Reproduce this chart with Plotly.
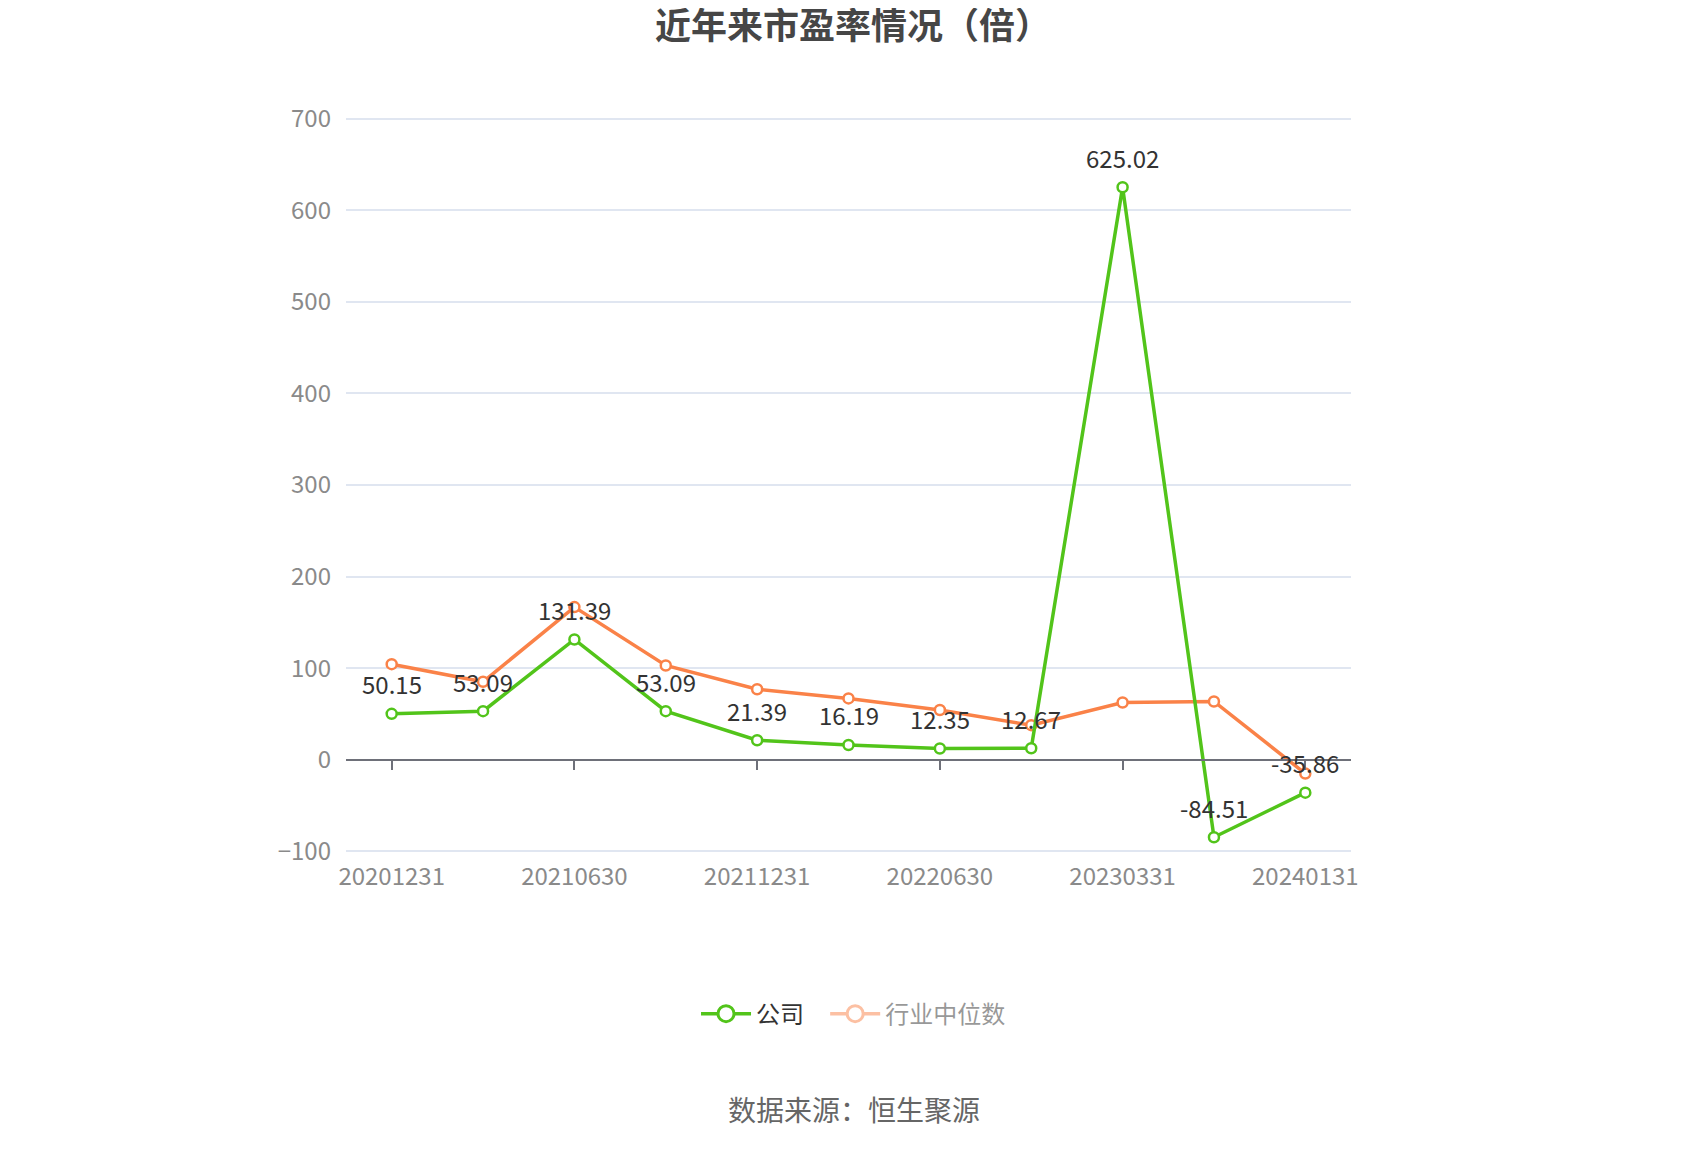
import plotly.graph_objs as go

dates = ["20201231", "20210331", "20210630", "20210930", "20211231", "20220331",
         "20220630", "20221231", "20230331", "20230930", "20240131"]
company_pe = [50.15, 53.09, 131.39, 53.09, 21.39, 16.19, 12.35, 12.67, 625.02, -84.51, -35.86]
industry_pe = [104.4, 85.2, 166.7, 103.0, 77.0, 67.0, 54.4, 37.8, 62.6, 63.7, -15.0]
shown_dates = dates[::2]
y_ticks = [-100, 0, 100, 200, 300, 400, 500, 600, 700]

green = "#52c41a"
orange = "#fa8248"
font = "Noto Sans CJK SC"

y_min, y_max = -105, 705


def series(name, ys, color, **kw):
    return go.Scatter(
        x=dates, y=ys, mode="lines+markers", name=name,
        line=dict(color=color, width=3.5),
        marker=dict(symbol="circle", size=10, color="white", line=dict(color=color, width=2.5)),
        showlegend=False, hoverinfo="skip", **kw)


def legend_item(name, color, visible=True):
    return go.Scatter(
        x=[None], y=[None], mode="lines+markers", name=name, visible=visible,
        line=dict(color=color, width=3.5),
        marker=dict(symbol="circle", size=20, color="white", line=dict(color=color, width=3)))


industry = series("行业中位数", industry_pe, orange)
company = series("公司", company_pe, green)

# axis line with ticks sitting on y = 0
zero_axis = go.Scatter(x=dates, y=[None] * len(dates), xaxis="x2", showlegend=False, hoverinfo="skip")

data = [industry, company, zero_axis,
        legend_item("公司\u00a0\u00a0\u00a0", green),
        legend_item("行业中位数", orange, visible="legendonly")]

# value labels above the company points (x given as category index)
labels = [dict(x=i, y=v, text=f"{v:.2f}", showarrow=False, yshift=30,
               font=dict(size=24, color="#333333", family=font))
          for i, v in enumerate(company_pe)]

labels.append(dict(text="数据来源：恒生聚源", xref="paper", yref="paper", x=0.505, y=-0.341,
                   xanchor="center", yanchor="middle", showarrow=False,
                   font=dict(size=28, color="#666666", family=font)))

layout = go.Layout(
    width=1700, height=1150,
    paper_bgcolor="white", plot_bgcolor="white",
    font=dict(family=font, color="#8a8a8a"),
    title=dict(text="<b>近年来市盈率情况（倍）</b>", x=0.497, xanchor="center", y=0.984, yanchor="middle",
               font=dict(size=36, color="#464646", family=font)),
    margin=dict(l=338, r=357, t=106, b=302),
    xaxis=dict(type="category", categoryorder="array", categoryarray=dates,
               range=[-0.5, len(dates) - 0.5],
               tickmode="array", tickvals=shown_dates, ticktext=shown_dates,
               showgrid=False, showline=False, zeroline=False, ticks="",
               tickfont=dict(size=24, color="#8a8a8a"), ticklabelstandoff=4),
    xaxis2=dict(type="category", categoryorder="array", categoryarray=dates,
                range=[-0.5, len(dates) - 0.5], overlaying="x", anchor="free",
                position=(0 - y_min) / (y_max - y_min), side="bottom",
                tickmode="array", tickvals=shown_dates, showticklabels=False,
                ticks="outside", ticklen=9, tickcolor="#6e7079", tickwidth=1.5,
                showline=True, linecolor="#6e7079", linewidth=1.5, showgrid=False),
    yaxis=dict(range=[y_min, y_max], tickvals=y_ticks, showgrid=True, gridcolor="#e0e6f1",
               gridwidth=1.5, zeroline=False, showline=False,
               tickfont=dict(size=24, color="#8a8a8a"), ticklabelstandoff=14),
    legend=dict(orientation="h", x=0.505, xanchor="center", y=-0.213, yanchor="middle",
                font=dict(size=24, color="#333333"), itemsizing="trace", itemwidth=50),
    annotations=labels,
)

fig = go.Figure(data=data, layout=layout)
fig.write_html("out.html")
